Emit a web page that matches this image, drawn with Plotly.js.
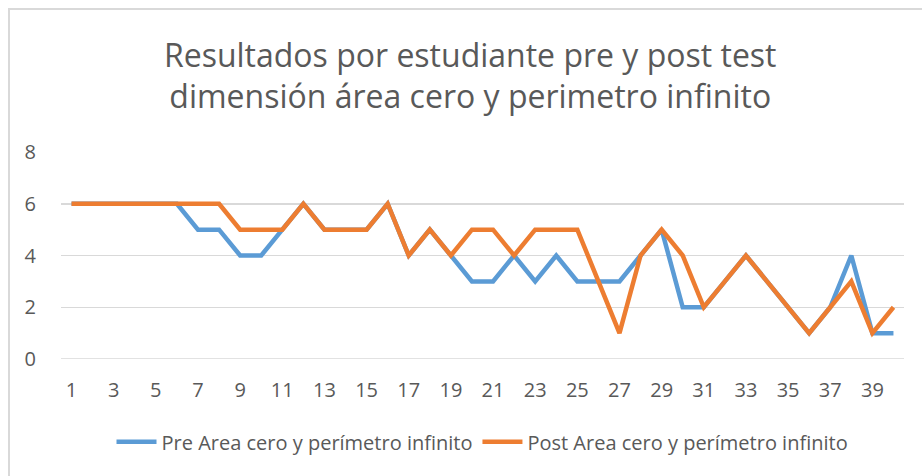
<!DOCTYPE html>
<html>
<head>
<meta charset="utf-8">
<script src="https://cdn.plot.ly/plotly-3.0.1.min.js"></script>
<style>
html,body{margin:0;padding:0;background:#fff;}
#wrap{position:relative;width:922px;height:476px;overflow:hidden;}
#frame{position:absolute;left:8px;top:8px;width:930px;height:480px;border-left:2px solid #d9d9d9;border-top:2px solid #d9d9d9;pointer-events:none;}
</style>
</head>
<body>
<div id="wrap"><div id="chart"></div><div id="frame"></div></div>
<script>
const students = Array.from({length: 40}, (_, i) => i + 1);
const preScores = [6,6,6,6,6,6,5,5,4,4,5,6,5,5,5,6,4,5,4,3,3,4,3,4,3,3,3,4,5,2,2,3,4,3,2,1,2,4,1,1];
const postScores = [6,6,6,6,6,6,6,6,5,5,5,6,5,5,5,6,4,5,4,5,5,4,5,5,5,3,1,4,5,4,2,3,4,3,2,1,2,3,1,2];
const xTickVals = students.filter(n => n % 2 === 1);
const xTickText = xTickVals.map(String);
const yTickVals = [0,2,4,6,8];

const font = "Open Sans, Liberation Sans, sans-serif";

const traces = [
  {x: students, y: preScores, type: 'scatter', mode: 'lines', name: 'Pre Area cero y perímetro infinito',
   line: {color: '#5B9BD5', width: 4.5}},
  {x: students, y: postScores, type: 'scatter', mode: 'lines', name: 'Post Area cero y perímetro infinito',
   line: {color: '#ED7D31', width: 4.5}}
];

const layout = {
  width: 922, height: 476,
  margin: {l: 61, r: 18, t: 152, b: 117},
  paper_bgcolor: '#fff', plot_bgcolor: '#fff',
  font: {family: font, color: '#595959', size: 20},
  title: {text: 'Resultados por estudiante pre y post test<br>dimensión área cero y perimetro infinito',
          x: 0.51, xanchor: 'center', y: 0.86, yanchor: 'top',
          font: {family: font, size: 32, color: '#595959'}},
  xaxis: {range: [0.5, 40.5], tickvals: xTickVals, ticktext: xTickText, showgrid: false,
          zeroline: false, showline: false, ticks: 'outside', ticklen: 13, tickcolor: 'rgba(0,0,0,0)',
          tickfont: {size: 20, color: '#595959'}, fixedrange: true},
  yaxis: {range: [0, 8], tickvals: yTickVals, showgrid: true, gridcolor: '#d9d9d9', gridwidth: 1.5,
          zeroline: false, showline: false, ticks: 'outside', ticklen: 20, tickcolor: 'rgba(0,0,0,0)',
          tickfont: {size: 20, color: '#595959'}, fixedrange: true},
  shapes: [{type: 'line', xref: 'paper', yref: 'y', x0: 0, x1: 1, y0: 0, y1: 0,
            line: {color: '#d9d9d9', width: 1.5}}],
  showlegend: true,
  legend: {orientation: 'h', x: 0.5, xanchor: 'center', y: -0.4, yanchor: 'middle',
           font: {size: 20, color: '#595959'}, itemwidth: 40, traceorder: 'normal'}
};

Plotly.newPlot('chart', traces, layout, {displayModeBar: false, staticPlot: true});
</script>
</body>
</html>
